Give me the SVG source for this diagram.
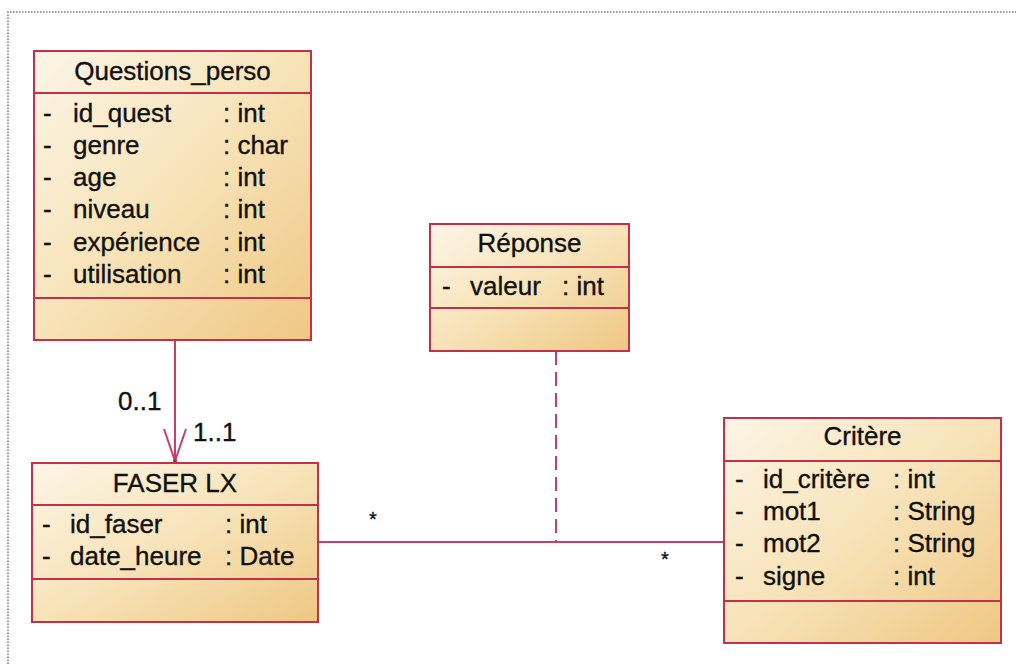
<svg xmlns="http://www.w3.org/2000/svg" width="1016" height="664" viewBox="0 0 1016 664">
<defs>
<linearGradient id="fill" x1="0" y1="0" x2="1" y2="1">
<stop offset="0" stop-color="#fcf5e6"/>
<stop offset="0.5" stop-color="#f7e3b8"/>
<stop offset="1" stop-color="#efc783"/>
</linearGradient>
<style>
.box{fill:url(#fill);stroke:#c3304a;stroke-width:2}
.sep{stroke:#c3304a;stroke-width:2}
.t{font-family:"Liberation Sans",Arial,sans-serif;font-size:26px;fill:#111;stroke:#111;stroke-width:0.35}
.c{text-anchor:middle}
.conn{stroke:#c4406a;stroke-width:2;fill:none}
.border{stroke:#777;stroke-width:1.5;stroke-dasharray:1.5 1.5;fill:none}
</style>
</defs>
<rect width="1016" height="664" fill="#fff"/>
<path class="border" d="M8,664 V12 H1016"/>

<g id="connectors">
<line class="conn" x1="175" y1="340" x2="175" y2="462"/>
<polyline class="conn" points="164,429 175,461 186,429"/>
<circle cx="175" cy="461" r="2" fill="#b02050"/>
<line class="conn" x1="318" y1="542" x2="724" y2="542"/>
<line class="conn" x1="556" y1="351" x2="556" y2="542" stroke-dasharray="14 7"/>
<text class="t" x="118" y="410">0..1</text>
<text class="t" x="193" y="441">1..1</text>
<text class="t" x="369" y="526" style="font-size:20px">*</text>
<text class="t" x="661" y="566" style="font-size:20px">*</text>
</g>

<g id="questions_perso">
<rect class="box" x="34" y="51" width="277" height="289"/>
<line class="sep" x1="34" y1="93" x2="311" y2="93"/>
<line class="sep" x1="34" y1="298" x2="311" y2="298"/>
<text class="t c" x="172.5" y="80">Questions_perso</text>
<text class="t" x="43" y="122">-</text><text class="t" x="73" y="122">id_quest</text><text class="t" x="223" y="122">: int</text>
<text class="t" x="43" y="154">-</text><text class="t" x="73" y="154">genre</text><text class="t" x="223" y="154">: char</text>
<text class="t" x="43" y="186">-</text><text class="t" x="73" y="186">age</text><text class="t" x="223" y="186">: int</text>
<text class="t" x="43" y="218">-</text><text class="t" x="73" y="218">niveau</text><text class="t" x="223" y="218">: int</text>
<text class="t" x="43" y="251">-</text><text class="t" x="73" y="251">expérience</text><text class="t" x="223" y="251">: int</text>
<text class="t" x="43" y="283">-</text><text class="t" x="73" y="283">utilisation</text><text class="t" x="223" y="283">: int</text>
</g>

<g id="reponse">
<rect class="box" x="430" y="224" width="199" height="127"/>
<line class="sep" x1="430" y1="267" x2="629" y2="267"/>
<line class="sep" x1="430" y1="308" x2="629" y2="308"/>
<text class="t c" x="529.5" y="252">Réponse</text>
<text class="t" x="442" y="295">-</text><text class="t" x="470" y="295">valeur</text><text class="t" x="562" y="295">: int</text>
</g>

<g id="faser_lx">
<rect class="box" x="32" y="463" width="286" height="159"/>
<line class="sep" x1="32" y1="505" x2="318" y2="505"/>
<line class="sep" x1="32" y1="579" x2="318" y2="579"/>
<text class="t c" x="175" y="492">FASER LX</text>
<text class="t" x="42" y="533">-</text><text class="t" x="70" y="533">id_faser</text><text class="t" x="225" y="533">: int</text>
<text class="t" x="42" y="565">-</text><text class="t" x="70" y="565">date_heure</text><text class="t" x="225" y="565">: Date</text>
</g>

<g id="critere">
<rect class="box" x="724" y="418" width="277" height="225"/>
<line class="sep" x1="724" y1="461" x2="1001" y2="461"/>
<line class="sep" x1="724" y1="601" x2="1001" y2="601"/>
<text class="t c" x="862.5" y="445">Critère</text>
<text class="t" x="735" y="488">-</text><text class="t" x="763" y="488">id_critère</text><text class="t" x="893" y="488">: int</text>
<text class="t" x="735" y="520">-</text><text class="t" x="763" y="520">mot1</text><text class="t" x="893" y="520">: String</text>
<text class="t" x="735" y="552">-</text><text class="t" x="763" y="552">mot2</text><text class="t" x="893" y="552">: String</text>
<text class="t" x="735" y="585">-</text><text class="t" x="763" y="585">signe</text><text class="t" x="893" y="585">: int</text>
</g>
</svg>
